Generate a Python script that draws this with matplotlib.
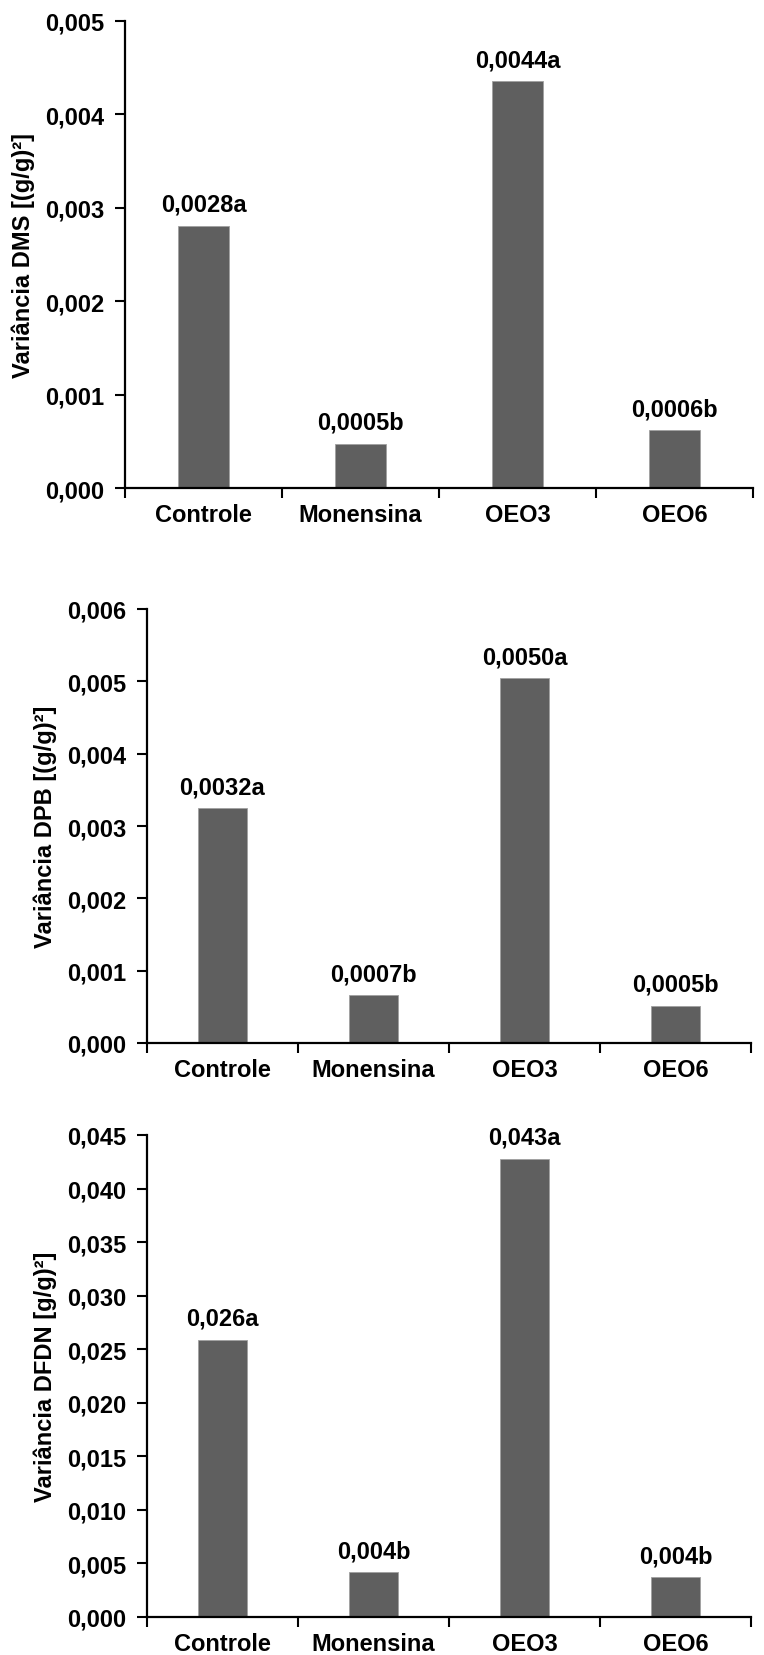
import matplotlib
matplotlib.use("Agg")
import matplotlib.pyplot as plt
from matplotlib.ticker import FuncFormatter, FixedLocator

categories = ["Controle", "Monensina", "OEO3", "OEO6"]

dms_values = [0.00281, 0.000475, 0.00436, 0.00062]
dms_labels = ["0,0028a", "0,0005b", "0,0044a", "0,0006b"]

dpb_values = [0.00325, 0.000665, 0.00504, 0.000516]
dpb_labels = ["0,0032a", "0,0007b", "0,0050a", "0,0005b"]

dfdn_values = [0.0259, 0.0042, 0.0428, 0.0037]
dfdn_labels = ["0,026a", "0,004b", "0,043a", "0,004b"]

plt.rcParams['font.family'] = ['Liberation Sans', 'DejaVu Sans']

W, H = 764, 1656
fig = plt.figure(figsize=(W / 100, H / 100), dpi=100)

BAR = "#5f5f5f"
FS = 17


def make_axes(left, right, top, bottom):
    return fig.add_axes([left / W, 1 - bottom / H, (right - left) / W, (bottom - top) / H])


def draw(ax, values, labels, ymax, step, ylabel, ylabel_x, fs=FS):
    x = list(range(len(categories)))
    ax.bar(x, values, width=0.32, color=BAR, edgecolor="#a0a0a0", linewidth=0.6)
    for xi, v, lab in zip(x, values, labels):
        ax.annotate(lab, (xi, v), xytext=(0, 7), textcoords="offset points",
                    ha="center", va="bottom", fontsize=fs, fontweight="bold")
    ax.set_xlim(-0.5, len(categories) - 0.5)
    ax.set_ylim(0, ymax)
    n = int(round(ymax / step))
    ax.yaxis.set_major_locator(FixedLocator([i * step for i in range(n + 1)]))
    ax.yaxis.set_major_formatter(FuncFormatter(lambda v, p: f"{v:.3f}".replace(".", ",")))
    ax.xaxis.set_major_locator(FixedLocator([i - 0.5 for i in range(len(categories) + 1)]))
    ax.xaxis.set_major_formatter(FuncFormatter(lambda v, p: ""))
    ax.xaxis.set_minor_locator(FixedLocator(x))
    ax.set_xticklabels(categories, minor=True)
    ax.tick_params(axis="x", which="minor", length=0, pad=11, labelsize=fs)
    ax.tick_params(axis="x", which="major", length=7, width=1.5, direction="out")
    ax.tick_params(axis="y", length=7, width=1.5, direction="out", labelsize=fs, pad=8)
    for t in ax.get_xticklabels(minor=True) + ax.get_yticklabels():
        t.set_fontweight("bold")
    for s in ["top", "right"]:
        ax.spines[s].set_visible(False)
    for s in ["left", "bottom"]:
        ax.spines[s].set_linewidth(1.6)
    ax.set_ylabel(ylabel, fontsize=fs, fontweight="bold")
    ax.yaxis.set_label_coords(ylabel_x, 0.5)


ax1 = make_axes(125, 753, 22, 489)
draw(ax1, dms_values, dms_labels, 0.005, 0.001, "Variância DMS [(g/g)²]", -0.143)

ax2 = make_axes(147, 751, 610, 1044)
draw(ax2, dpb_values, dpb_labels, 0.006, 0.001, "Variância DPB [(g/g)²]", -0.149)

ax3 = make_axes(147, 751, 1136, 1618)
draw(ax3, dfdn_values, dfdn_labels, 0.045, 0.005, "Variância DFDN [g/g)²]", -0.149)

fig.savefig("out.png", dpi=100, facecolor="white")
